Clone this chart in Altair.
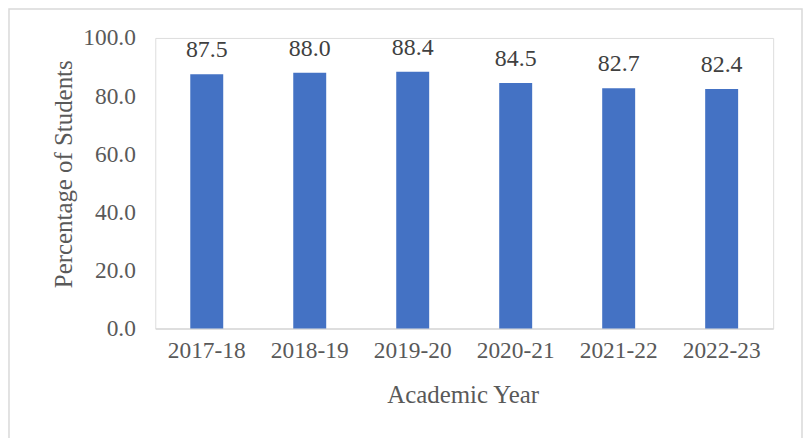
import altair as alt
import pandas as pd

years = ["2017-18", "2018-19", "2019-20", "2020-21", "2021-22", "2022-23"]
values = [87.5, 88.0, 88.4, 84.5, 82.7, 82.4]

df = pd.DataFrame({"year": years, "pct": values})
df["label"] = [f"{v:.1f}" for v in values]

FONT = "Liberation Serif"
GREY = "#595959"

base = alt.Chart(df)

bars = base.mark_bar(color="#4472C4").encode(
    x=alt.X(
        "year:N",
        sort=years,
        scale=alt.Scale(paddingInner=0.68, paddingOuter=0.34),
        axis=alt.Axis(
            title="Academic Year",
            labelAngle=0,
            labelFont=FONT,
            labelFontSize=23.5,
            labelColor=GREY,
            labelPadding=10,
            ticks=False,
            domainColor="#d9d9d9",
            domainWidth=1.5,
            titleFont=FONT,
            titleFontSize=25,
            titleFontWeight="normal",
            titleColor=GREY,
            titleX=309,
            titleY=66,
            titleBaseline="middle",
        ),
    ),
    y=alt.Y(
        "pct:Q",
        scale=alt.Scale(domain=[0, 100], nice=False),
        axis=alt.Axis(
            title="Percentage of Students",
            values=[0, 20, 40, 60, 80, 100],
            format=".1f",
            labelFont=FONT,
            labelFontSize=23.5,
            labelColor=GREY,
            labelPadding=20,
            ticks=False,
            domain=False,
            grid=False,
            titleFont=FONT,
            titleFontSize=25,
            titleFontWeight="normal",
            titleColor=GREY,
            titleAngle=270,
            titleX=-92,
            titleY=136.5,
            titleBaseline="middle",
            titleAlign="center",
        ),
    ),
)

labels = base.mark_text(
    font=FONT,
    fontSize=24,
    color="#404040",
    baseline="alphabetic",
    dy=-17,
).encode(
    x=alt.X("year:N", sort=years),
    y=alt.Y("pct:Q"),
    text="label:N",
)

border = alt.Chart(pd.DataFrame({"a": [0]})).mark_rect(
    fill=None, stroke="#d9d9d9", strokeWidth=1.5, clip=False
).encode(
    x=alt.value(-147), x2=alt.value(650), y=alt.value(-29), y2=alt.value(420)
)

chart = (
    alt.layer(border, bars, labels)
    .properties(
        width=621,
        height=292,
        autosize=alt.AutoSizeParams(type="none"),
        padding={"left": 148, "top": 29, "right": 30, "bottom": 110},
    )
    .configure_view(stroke=None)
    .configure(background="white", font=FONT)
)

chart.save("out.html", embed_options={"renderer": "svg", "actions": False})
